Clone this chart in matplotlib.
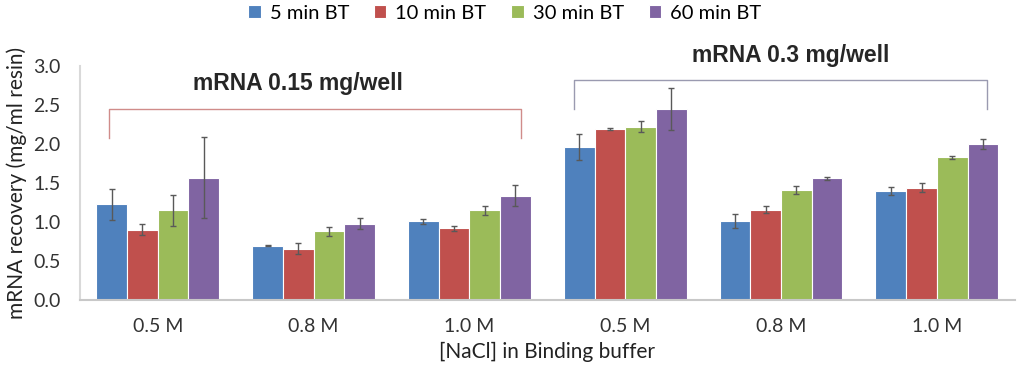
import numpy as np
import matplotlib
matplotlib.use('Agg')
import matplotlib.pyplot as plt

# data
grupos = ['0.5 M', '0.8 M', '1.0 M', '0.5 M', '0.8 M', '1.0 M']
series = ['5 min BT', '10 min BT', '30 min BT', '60 min BT']
colores = ['#4F81BD', '#C0504D', '#9BBB59', '#8064A2']

bt5 = [1.23, 0.70, 1.01, 1.96, 1.01, 1.40]
bt10 = [0.90, 0.66, 0.92, 2.19, 1.16, 1.44]
bt30 = [1.15, 0.88, 1.15, 2.22, 1.41, 1.83]
bt60 = [1.57, 0.98, 1.34, 2.45, 1.56, 2.00]

err5 = [0.20, 0.01, 0.03, 0.17, 0.09, 0.05]
err10 = [0.07, 0.07, 0.03, 0.01, 0.04, 0.06]
err30 = [0.20, 0.06, 0.06, 0.07, 0.05, 0.02]
err60 = [0.52, 0.07, 0.14, 0.27, 0.02, 0.07]

valores = [bt5, bt10, bt30, bt60]
errores = [err5, err10, err30, err60]

plt.rcParams['font.family'] = ['Lato', 'DejaVu Sans']

fig = plt.figure(figsize=(10.24, 3.79), dpi=100)
ax = fig.add_axes([0.078, 0.208, 0.913, 0.618])

x = np.arange(len(grupos))
w = 0.197
for i in range(4):
    ax.bar(x + (i - 1.5) * w, valores[i], width=w, color=colores[i],
           edgecolor='white', linewidth=0.8, label=series[i],
           yerr=errores[i], capsize=2.5,
           error_kw=dict(ecolor='#595959', elinewidth=1.0, capthick=1.0))

ax.set_xlim(-0.5, 5.5)
ax.set_ylim(0, 3.0)
ax.set_yticks(np.arange(0, 3.01, 0.5))
ax.set_yticklabels(['%.1f' % v for v in np.arange(0, 3.01, 0.5)], fontsize=14, color='#333333')
ax.set_xticks(x)
ax.set_xticklabels(grupos, fontsize=14, color='#333333')
ax.tick_params(axis='y', length=0, pad=14)
ax.tick_params(axis='x', length=0, pad=13)
ax.spines['top'].set_visible(False)
ax.spines['right'].set_visible(False)
ax.spines['left'].set_color('#D9D9D9')
ax.spines['left'].set_linewidth(1.5)
ax.spines['bottom'].set_color('#C8C8C8')
ax.spines['bottom'].set_linewidth(1.5)
ax.set_ylabel('mRNA recovery (mg/ml resin)', fontsize=15, color='#222222', labelpad=4)
ax.set_xlabel('[NaCl] in Binding buffer', fontsize=15, color='#222222', labelpad=5)

# brackets
ax.plot([-0.31, -0.31, 2.33, 2.33], [2.08, 2.45, 2.45, 2.08], color='#D08C8A', lw=1.0, clip_on=False)
ax.plot([2.67, 2.67, 5.32, 5.32], [2.45, 2.82, 2.82, 2.45], color='#9A9AB0', lw=1.0, clip_on=False)
ax.text(0.90, 2.78, 'mRNA 0.15 mg/well', ha='center', va='center', fontsize=16.5,
        fontweight='bold', color='#262626', family='Liberation Sans')
ax.text(4.06, 3.13, 'mRNA 0.3 mg/well', ha='center', va='center', fontsize=16.5,
        fontweight='bold', color='#262626', family='Liberation Sans', clip_on=False)

leg = fig.legend(loc='upper center', bbox_to_anchor=(0.493, 1.035), ncol=4, frameon=False,
                 fontsize=14.5, handlelength=0.6, handleheight=0.6, handletextpad=0.45,
                 columnspacing=1.25)

fig.savefig('out.png', dpi=100)
